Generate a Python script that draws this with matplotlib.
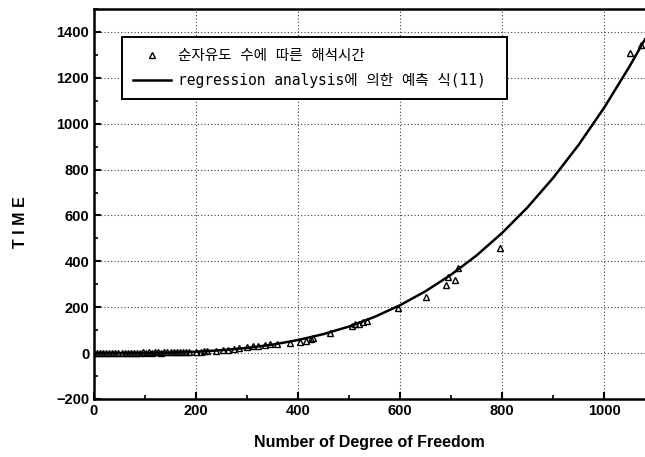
import matplotlib
matplotlib.use("Agg")
import matplotlib.pyplot as plt
from matplotlib.ticker import MultipleLocator

plt.rcParams['font.family'] = ['Liberation Sans', 'Noto Sans CJK KR', 'DejaVu Sans']

# measured data (triangles)
dof = [0, 6, 12, 18, 24, 30, 36, 42, 48, 54, 60, 66, 72, 78, 84, 90, 96, 102, 108,
       114, 120, 126, 132, 138, 144, 150, 156, 162, 168, 174, 180, 186, 200, 210, 216,
       222, 240, 252, 262, 275, 285, 300, 312, 322, 335, 345, 358, 384, 404, 415, 425,
       430, 463, 506, 512, 520, 528, 535, 595, 650, 690, 693, 708, 714, 796, 1051, 1073]
time = [0, 1, 2, 1, 2, 1, 2, 1, 2, 2, 1, 2, 2, 1, 2, 2, 3, 2, 3,
        2, 3, 3, 2, 3, 3, 4, 3, 4, 4, 5, 5, 6, 6, 7, 8,
        8, 10, 12, 14, 18, 22, 26, 30, 32, 35, 38, 40, 45, 50, 55, 60,
        65, 88, 118, 125, 128, 135, 140, 195, 245, 296, 330, 317, 370, 457, 1309, 1343]

# regression curve
fit_x = [0, 50, 100, 150, 200, 250, 300, 350, 400, 450, 500, 550, 600, 650, 700,
         750, 800, 850, 900, 950, 1000, 1050, 1080]
fit_y = [0, 0.1, 0.7, 2.5, 6.2, 12.7, 22.7, 37, 57, 83, 116, 158, 209, 270, 342,
         426, 524, 636, 764, 908, 1070, 1251, 1368]

label_pts = '순자유도 수에 따른 해석시간'
label_fit = 'regression analysis에 의한 예측 식(11)'

fig = plt.figure(figsize=(6.45, 4.57), dpi=100)
ax = fig.add_axes([94/645, 1-399/457, 1-94/645, 390/457])

ax.plot(dof, time, linestyle='none', marker='^', markersize=5, markerfacecolor='none',
        markeredgecolor='black', markeredgewidth=1.0, label=label_pts)
ax.plot(fit_x, fit_y, color='black', linewidth=1.8, label=label_fit)

ax.set_xlim(0, 1080)
ax.set_ylim(-200, 1500)
ax.xaxis.set_major_locator(MultipleLocator(200))
ax.xaxis.set_minor_locator(MultipleLocator(100))
ax.yaxis.set_major_locator(MultipleLocator(200))
ax.yaxis.set_minor_locator(MultipleLocator(100))
ax.set_yticks([-200, 0, 200, 400, 600, 800, 1000, 1200, 1400])
ax.grid(True, which='major', linestyle=(0, (1, 2)), color='0.25', linewidth=0.8)
ax.tick_params(which='major', direction='in', length=5, width=1.5, labelsize=10.5)
ax.tick_params(which='minor', direction='in', length=3, width=1.2)
for lab in ax.get_xticklabels() + ax.get_yticklabels():
    lab.set_fontweight('bold')
for s in ['left', 'bottom', 'top']:
    ax.spines[s].set_linewidth(1.8)
ax.spines['right'].set_visible(False)

ax.set_xlabel('Number of Degree of Freedom', fontsize=11.5, fontweight='bold', labelpad=12)
ax.set_ylabel('T I M E', fontsize=11.5, fontweight='bold')
ax.yaxis.set_label_coords(-0.12, 0.454)

leg = ax.legend(loc='upper left',
                bbox_to_anchor=(28/551, 1-32/390, 385/551, 0.01),
                mode='expand', fancybox=False,
                edgecolor='black', framealpha=1, borderpad=0.75, borderaxespad=0,
                handlelength=2.6, handletextpad=0.5,
                labelspacing=0.7,
                prop={'family': ['DejaVu Sans Mono', 'Noto Sans CJK KR'], 'size': 10.5})
leg.get_frame().set_linewidth(1.4)

fig.savefig('out.png', dpi=100)
